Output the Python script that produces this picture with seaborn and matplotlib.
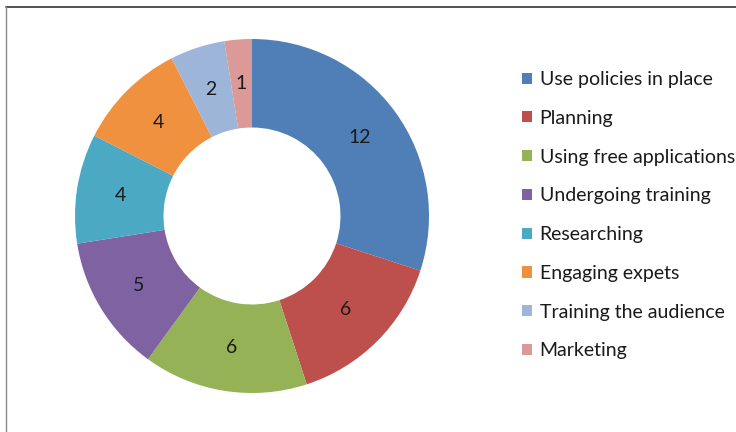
import matplotlib
matplotlib.use("Agg")
import matplotlib.pyplot as plt
from matplotlib.patches import Patch
from matplotlib.lines import Line2D
import numpy as np
import seaborn as sns

# Survey responses per strategy
categories = [
    "Use policies in place",
    "Planning",
    "Using free applications",
    "Undergoing training",
    "Researching",
    "Engaging expets",
    "Training the audience",
    "Marketing",
]
counts = [12, 6, 6, 5, 4, 4, 2, 1]
colors = ["#4F7FB6", "#BD504D", "#95B256", "#7F62A1", "#4BA9C4",
          "#F0913F", "#9EB5DA", "#DB9998"]

sns.set_theme(style="white")
plt.rcParams["font.family"] = ["Lato", "DejaVu Sans"]
palette = sns.color_palette(colors)

W, H = 736, 432
fig = plt.figure(figsize=(W / 100, H / 100), dpi=100)
fig.patch.set_facecolor("white")

# donut centre and outer radius in pixels
cx, cy, r = 252, 216, 177
ax = fig.add_axes([(cx - r) / W, (H - cy - r) / H, 2 * r / W, 2 * r / H])

wedges, _ = ax.pie(
    counts,
    colors=palette,
    startangle=90,
    counterclock=False,
    radius=1.0,
    wedgeprops=dict(width=0.5, edgecolor="none", linewidth=0),
)
ax.set_xlim(-1, 1)
ax.set_ylim(-1, 1)
ax.set_aspect("equal")
ax.axis("off")

# value labels at the middle of the ring
total = sum(counts)
start = 90.0
for v in counts:
    mid = start - 360.0 * v / total / 2
    start -= 360.0 * v / total
    rr = 0.75
    ax.text(rr * np.cos(np.radians(mid)), rr * np.sin(np.radians(mid)), str(v),
            ha="center", va="center", fontsize=14, color="#1a1a1a")

handles = [Patch(facecolor=c, edgecolor="none") for c in palette]
fig.legend(
    handles, categories,
    loc="upper left",
    bbox_to_anchor=(522 / W, 1 - 71 / H),
    frameon=False,
    fontsize=14,
    handlelength=0.5,
    handleheight=0.5,
    handletextpad=0.4,
    labelspacing=1.12,
    borderpad=0,
    borderaxespad=0,
    labelcolor="#1a1a1a",
)

# chart border (top and left edges)
fig.add_artist(Line2D([6 / W, 1], [1 - 7 / H, 1 - 7 / H], color="#333333", lw=1.2,
                      transform=fig.transFigure))
fig.add_artist(Line2D([6.5 / W, 6.5 / W], [0, 1 - 7 / H], color="#8a8a8a", lw=1.0,
                      transform=fig.transFigure))

fig.savefig("out.png", dpi=100, facecolor="white")
